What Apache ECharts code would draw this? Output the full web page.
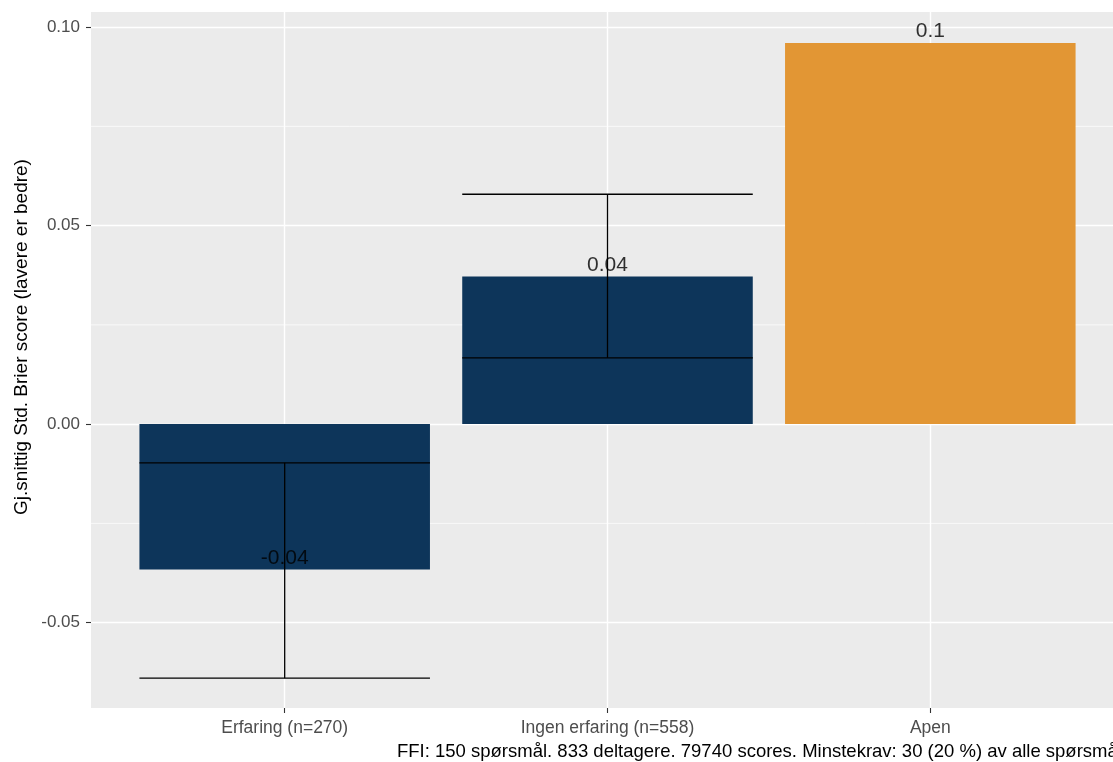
<!DOCTYPE html>
<html>
<head>
<meta charset="utf-8">
<script src="https://cdn.jsdelivr.net/npm/echarts@6/dist/echarts.min.js"></script>
<style>
  html, body { margin: 0; padding: 0; background: #ffffff; overflow: hidden; }
  /* the plot panel runs a little past the right edge of the window */
  #chart { width: 1124px; height: 762px; }
</style>
</head>
<body>
<div id="chart"></div>
<script>
// Groups and their mean standardised Brier score
const categories = ['Erfaring (n=270)', 'Ingen erfaring (n=558)', 'Apen'];
const meanScore = [-0.0366, 0.0372, 0.0960];
// Error bar limits (no interval for the open group)
const errLow = [-0.0640, 0.0167, null];
const errHigh = [-0.00975, 0.0579, null];
const barColors = ['#0d355a', '#0d355a', '#e29634'];
// Axis ticks and minor grid lines
const yTicks = [-0.05, 0.00, 0.05, 0.10];
const yMinor = [-0.025, 0.025, 0.075];
const xTicks = [1, 2, 3];

const yTitle = 'Gj.snittig Std. Brier score (lavere er bedre)';
const caption = 'FFI: 150 spørsmål. 833 deltagere. 79740 scores. Minstekrav: 30 (20 %) av alle spørsmål';

const FONT = '"Liberation Sans", Arial, sans-serif';
const BAR_W = 0.9;

const barData = meanScore.map((v, i) => [i + 1, v]);
const errData = categories
  .map((c, i) => [i + 1, errLow[i], errHigh[i]])
  .filter(d => d[1] !== null);

const chart = echarts.init(document.getElementById('chart'), null, { renderer: 'canvas' });

chart.setOption({
  animation: false,
  backgroundColor: '#ffffff',
  grid: {
    left: 91, top: 12, right: 0, bottom: 54,
    show: true, backgroundColor: '#ebebeb', borderWidth: 0,
    containLabel: false
  },
  xAxis: {
    type: 'value', min: 0.4, max: 3.6,
    axisLine: { show: false, onZero: false },
    axisTick: { show: true, customValues: xTicks, length: 5, lineStyle: { color: '#333333', width: 1.1 } },
    axisLabel: {
      show: true, customValues: xTicks, margin: 11,
      formatter: v => categories[Math.round(v) - 1] || '',
      color: '#4d4d4d', fontSize: 17.5, fontFamily: FONT
    },
    splitLine: { show: true, lineStyle: { color: '#ffffff', width: 1.4 } }
  },
  yAxis: {
    type: 'value', min: -0.0715, max: 0.1038,
    axisLine: { show: false },
    axisTick: { show: true, customValues: yTicks, length: 5, lineStyle: { color: '#333333', width: 1.1 } },
    axisLabel: {
      show: true, customValues: yTicks, margin: 11,
      formatter: v => v.toFixed(2),
      color: '#4d4d4d', fontSize: 17, fontFamily: FONT
    },
    splitLine: { show: true, lineStyle: { color: '#ffffff', width: 1.4 } }
  },
  series: [
    {
      // minor horizontal grid lines across the panel
      type: 'custom', z: 1, silent: true,
      data: yMinor.map(v => [v]),
      encode: { y: 0 },
      renderItem: (params, api) => {
        const cs = params.coordSys;
        const y = api.coord([0.4, api.value(0)])[1];
        return {
          type: 'line',
          shape: { x1: cs.x, y1: y, x2: cs.x + cs.width, y2: y },
          style: { stroke: '#ffffff', lineWidth: 0.7 }
        };
      }
    },
    {
      // bars, 0.9 category units wide
      type: 'custom', z: 2,
      data: barData,
      encode: { x: 0, y: 1 },
      renderItem: (params, api) => {
        const x = api.value(0), v = api.value(1);
        const p0 = api.coord([x - BAR_W / 2, 0]);
        const p1 = api.coord([x + BAR_W / 2, v]);
        return {
          type: 'rect',
          shape: {
            x: p0[0], y: Math.min(p0[1], p1[1]),
            width: p1[0] - p0[0], height: Math.abs(p1[1] - p0[1])
          },
          style: { fill: barColors[params.dataIndex] }
        };
      }
    },
    {
      // error bars with whiskers as wide as the bars
      type: 'custom', z: 3,
      data: errData,
      encode: { x: 0, y: [1, 2] },
      renderItem: (params, api) => {
        const x = api.value(0);
        const lo = api.coord([x, api.value(1)]);
        const hi = api.coord([x, api.value(2)]);
        const hw = api.size([BAR_W, 0])[0] / 2;
        const st = { stroke: '#000000', lineWidth: 1.3 };
        return {
          type: 'group',
          children: [
            { type: 'line', shape: { x1: lo[0], y1: lo[1], x2: hi[0], y2: hi[1] }, style: st },
            { type: 'line', shape: { x1: lo[0] - hw, y1: lo[1], x2: lo[0] + hw, y2: lo[1] }, style: st },
            { type: 'line', shape: { x1: hi[0] - hw, y1: hi[1], x2: hi[0] + hw, y2: hi[1] }, style: st }
          ]
        };
      }
    },
    {
      // value labels placed just above each mean
      type: 'scatter', z: 4, symbolSize: 0,
      data: barData,
      label: {
        show: true, position: 'top', distance: 1,
        formatter: p => String(Number(p.value[1].toFixed(2))),
        color: '#000000', fontSize: 21, fontFamily: FONT
      }
    }
  ],
  graphic: [
    {
      type: 'text', x: 22, y: 337, rotation: Math.PI / 2,
      style: {
        text: yTitle, fill: '#000000', font: '19px ' + FONT,
        textAlign: 'center', textVerticalAlign: 'middle'
      }
    },
    {
      type: 'text', x: 397, y: 752,
      style: {
        text: caption, fill: '#000000', font: '18.5px ' + FONT,
        textAlign: 'left', textVerticalAlign: 'middle'
      }
    }
  ]
});
</script>
</body>
</html>
